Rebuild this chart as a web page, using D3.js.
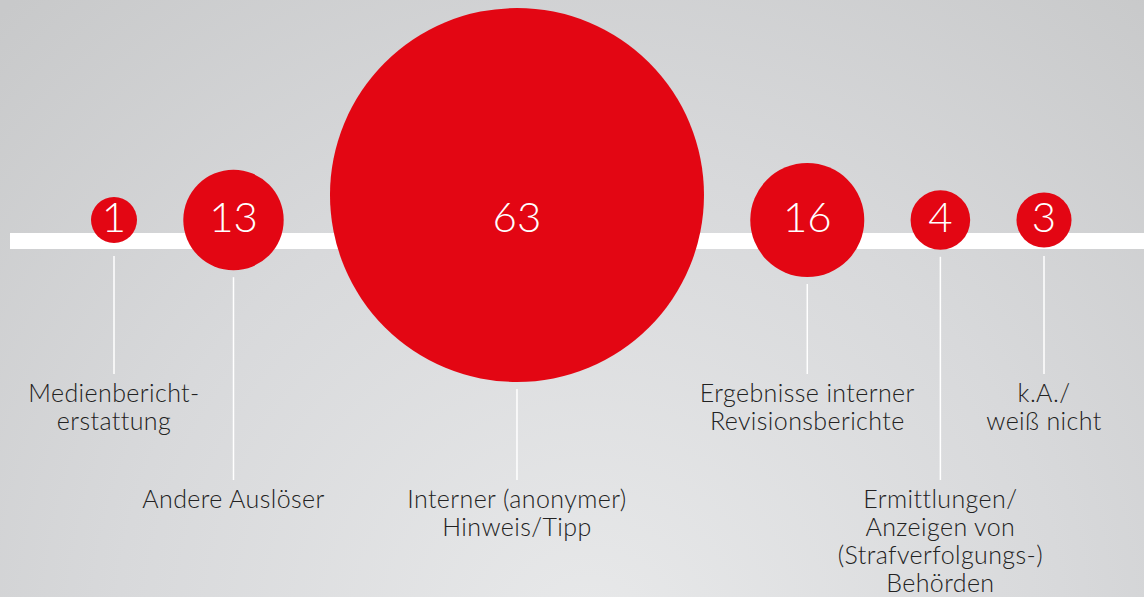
<!DOCTYPE html>
<html lang="de">
<head>
    <meta charset="UTF-8">
    <title>Auslöser</title>
    <style>
        html, body { margin: 0; padding: 0; overflow: hidden; }
        svg { display: block; }
        text { font-family: Lato, "Open Sans", sans-serif; }
    </style>
</head>
<body>
    <div id="container"></div>
    <script src="https://cdn.jsdelivr.net/npm/d3@7"></script>
    <script>
    const categories = [
        "Medienbericht-\nerstattung",
        "Andere Auslöser",
        "Interner (anonymer)\nHinweis/Tipp",
        "Ergebnisse interner\nRevisionsberichte",
        "Ermittlungen/\nAnzeigen von\n(Strafverfolgungs-)\nBehörden",
        "k.A./\nweiß nicht"
    ];
    const values = [1, 13, 63, 16, 4, 3];

    const width = 1144, height = 597;
    const barTop = 233, barH = 16;
    const lineY = 220;       // circle centre sits on the bar
    const maxBottom = 382;   // big circles get pushed up so the lower labels fit
    const levelY = [402, 508];
    const lineH = 28;
    const x0 = 114, x1 = 1044;

    const r = d3.scaleLinear()
        .domain([1, 16, 63])
        .range([23, 57, 187]);

    const data = values.map((v, i) => ({
        name: categories[i],
        value: v,
        lines: categories[i].split("\n"),
        r: r(v)
    }));

    // pack circles side by side, spread the spare room evenly
    let acc = 0;
    data.forEach((d, i) => {
        if (i > 0) acc += data[i - 1].r + d.r;
        d.packed = acc;
        d.cy = Math.min(lineY, maxBottom - d.r);
    });
    const gap = (x1 - x0 - acc) / (data.length - 1);
    data.forEach((d, i) => d.cx = x0 + d.packed + i * gap);

    const svg = d3.select("#container").append("svg")
        .attr("width", width)
        .attr("height", height);

    const grad = svg.append("defs").append("radialGradient")
        .attr("id", "bg")
        .attr("gradientUnits", "userSpaceOnUse")
        .attr("cx", 590).attr("cy", 640).attr("r", 860);
    grad.append("stop").attr("offset", 0).attr("stop-color", "#e8e9ea");
    grad.append("stop").attr("offset", 0.55).attr("stop-color", "#d8d9db");
    grad.append("stop").attr("offset", 1).attr("stop-color", "#c8c9ca");

    svg.append("rect")
        .attr("width", width)
        .attr("height", height)
        .attr("fill", "url(#bg)");

    svg.append("rect")
        .attr("x", 10)
        .attr("y", barTop)
        .attr("width", width - 10)
        .attr("height", barH)
        .attr("fill", "#fff");

    svg.append("g")
        .selectAll()
        .data(data)
        .join("circle")
        .attr("cx", d => d.cx)
        .attr("cy", d => d.cy)
        .attr("r", d => d.r)
        .attr("fill", "#e30613");

    svg.append("g")
        .attr("fill", "#fff")
        .attr("font-size", 42)
        .attr("font-weight", 300)
        .attr("text-anchor", "middle")
        .selectAll()
        .data(data)
        .join("text")
        .attr("x", d => d.cx)
        .attr("y", barTop - 1)
        .text(d => d.value);

    const labels = svg.append("g")
        .attr("fill", "#222")
        .attr("font-size", 25)
        .attr("font-weight", 300)
        .attr("letter-spacing", 0.4)
        .attr("text-anchor", "middle")
        .selectAll()
        .data(data)
        .join("text")
        .attr("x", d => d.cx);

    labels.selectAll("tspan")
        .data(d => d.lines)
        .join("tspan")
        .attr("x", function() { return d3.select(this.parentNode).attr("x"); })
        .attr("dy", (l, i) => i === 0 ? 0 : lineH)
        .text(l => l);

    // put each label on the highest level where it is clear of its circle and its neighbours
    const placed = levelY.map(() => []);
    labels.each(function(d) {
        const w = this.getBBox().width;
        d.lineTop = Math.max(d.cy + d.r, barTop + barH) + 7;
        let lvl = 0;
        for (; lvl < levelY.length - 1; lvl++) {
            const below = levelY[lvl] - lineH > d.lineTop + 10;
            const free = placed[lvl].every(p => d.cx - w / 2 > p[1] + 20 || d.cx + w / 2 < p[0] - 20);
            if (below && free) break;
        }
        placed[lvl].push([d.cx - w / 2, d.cx + w / 2]);
        d.labelY = levelY[lvl];
    });
    labels.attr("y", d => d.labelY);

    svg.append("g")
        .attr("stroke", "#fff")
        .attr("stroke-width", 1.5)
        .selectAll()
        .data(data)
        .join("line")
        .attr("x1", d => d.cx)
        .attr("x2", d => d.cx)
        .attr("y1", d => d.lineTop)
        .attr("y2", d => d.labelY - lineH);
    </script>
</body>
</html>
